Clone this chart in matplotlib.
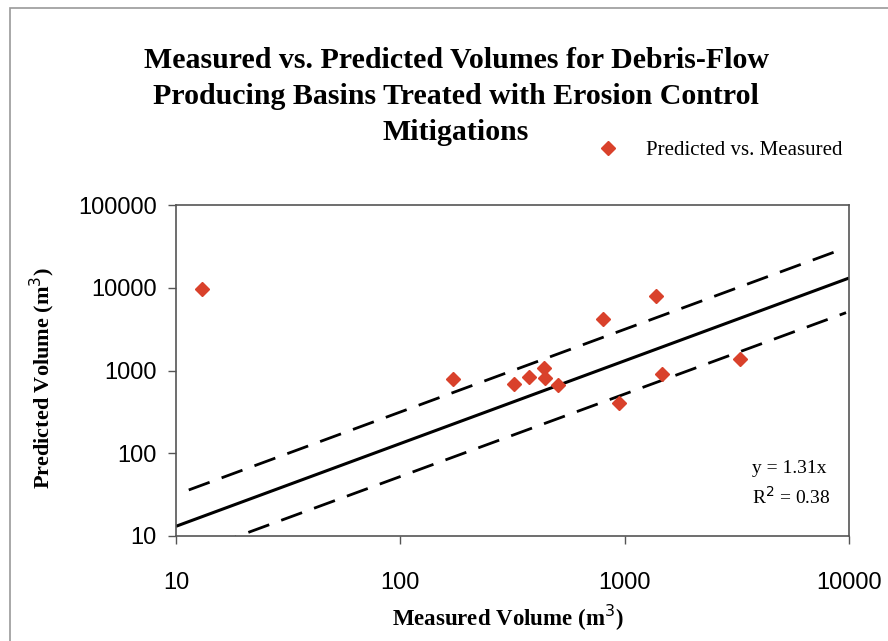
import matplotlib
matplotlib.use("Agg")
import matplotlib.pyplot as plt
from matplotlib.patches import Rectangle
from matplotlib.ticker import FixedLocator, NullLocator, FixedFormatter

SERIF = "Liberation Serif"
SANS = "Liberation Sans"
RED = "#d9412b"

# measured vs predicted volumes (m^3)
measured = [13.1, 171, 321, 376, 435, 443, 503, 804, 944, 1377, 1472, 3265]
predicted = [9660, 783, 681, 841, 1062, 805, 663, 4160, 402, 7940, 900, 1365]

# fit line y = 1.31x and the dashed bands
fit_x = [10, 10000]
fit_y = [13.1, 13100]
upper_x = [11.4, 9400]
upper_y = [36, 29500]
lower_x = [15, 9700]
lower_y = [7.9, 5000]

ticks_x = [10, 100, 1000, 10000]
ticks_y = [10, 100, 1000, 10000, 100000]

title_lines = ["Measured vs. Predicted Volumes for Debris-Flow",
               "Producing Basins Treated with Erosion Control",
               "Mitigations"]

fig = plt.figure(figsize=(8.88, 6.41), dpi=100)
ax = fig.add_axes([176 / 888, 1 - 536 / 641, 673 / 888, 331 / 641])

ax.plot(fit_x, fit_y, color="black", lw=2.2, solid_capstyle="butt")
ax.plot(upper_x, upper_y, color="black", lw=2.0, dashes=(8, 4.6))
ax.plot(lower_x, lower_y, color="black", lw=2.0, dashes=(8, 4.6))
ax.plot(measured, predicted, linestyle="none", marker="D", markersize=7,
        color=RED, markeredgecolor=RED, label="Predicted vs. Measured")

ax.set_xscale("log")
ax.set_yscale("log")
ax.set_xlim(10, 10000)
ax.set_ylim(10, 100000)
ax.xaxis.set_major_locator(FixedLocator(ticks_x))
ax.yaxis.set_major_locator(FixedLocator(ticks_y))
ax.xaxis.set_minor_locator(NullLocator())
ax.yaxis.set_minor_locator(NullLocator())
ax.xaxis.set_major_formatter(FixedFormatter([str(t) for t in ticks_x]))
ax.yaxis.set_major_formatter(FixedFormatter([str(t) for t in ticks_y]))
ax.tick_params(axis="both", direction="out", length=6, width=1, color="#555555",
               labelsize=17)
ax.tick_params(axis="x", pad=20)
ax.tick_params(axis="y", pad=8)
for lab in ax.get_xticklabels() + ax.get_yticklabels():
    lab.set_fontfamily(SANS)
for sp in ax.spines.values():
    sp.set_color("#555555")
    sp.set_linewidth(1.2)

fig.text(508 / 888, 1 - 618 / 641, "Measured Volume (m$^3$)", ha="center",
         va="center", fontfamily=SERIF, fontweight="bold", fontsize=16.5)
fig.text(42 / 888, 1 - 378 / 641, "Predicted Volume (m$^3$)", rotation=90,
         ha="center", va="center", fontfamily=SERIF, fontweight="bold", fontsize=16)

for i, line in enumerate(title_lines):
    fig.text(456 / 888, 1 - (60 + 36 * i) / 641, line, ha="center", va="center",
             fontfamily=SERIF, fontweight="bold", fontsize=21.5)

ax.text(0.856, 0.205, "y = 1.31x", transform=ax.transAxes, fontfamily=SERIF,
        fontsize=14, ha="left", va="center")
ax.text(0.856, 0.118, "R$^2$ = 0.38", transform=ax.transAxes, fontfamily=SERIF,
        fontsize=14, ha="left", va="center")

fig.legend(loc="center left", bbox_to_anchor=(568 / 888, 1 - 150 / 641),
           frameon=False, prop={"family": SERIF, "size": 15},
           handletextpad=0.82, handlelength=2.0)

fig.patches.append(Rectangle((10 / 888, -0.1), 1.2, 1 - 8 / 641 + 0.1,
                             transform=fig.transFigure, fill=False,
                             edgecolor="#999999", linewidth=1.2))

fig.savefig("out.png", dpi=100)
